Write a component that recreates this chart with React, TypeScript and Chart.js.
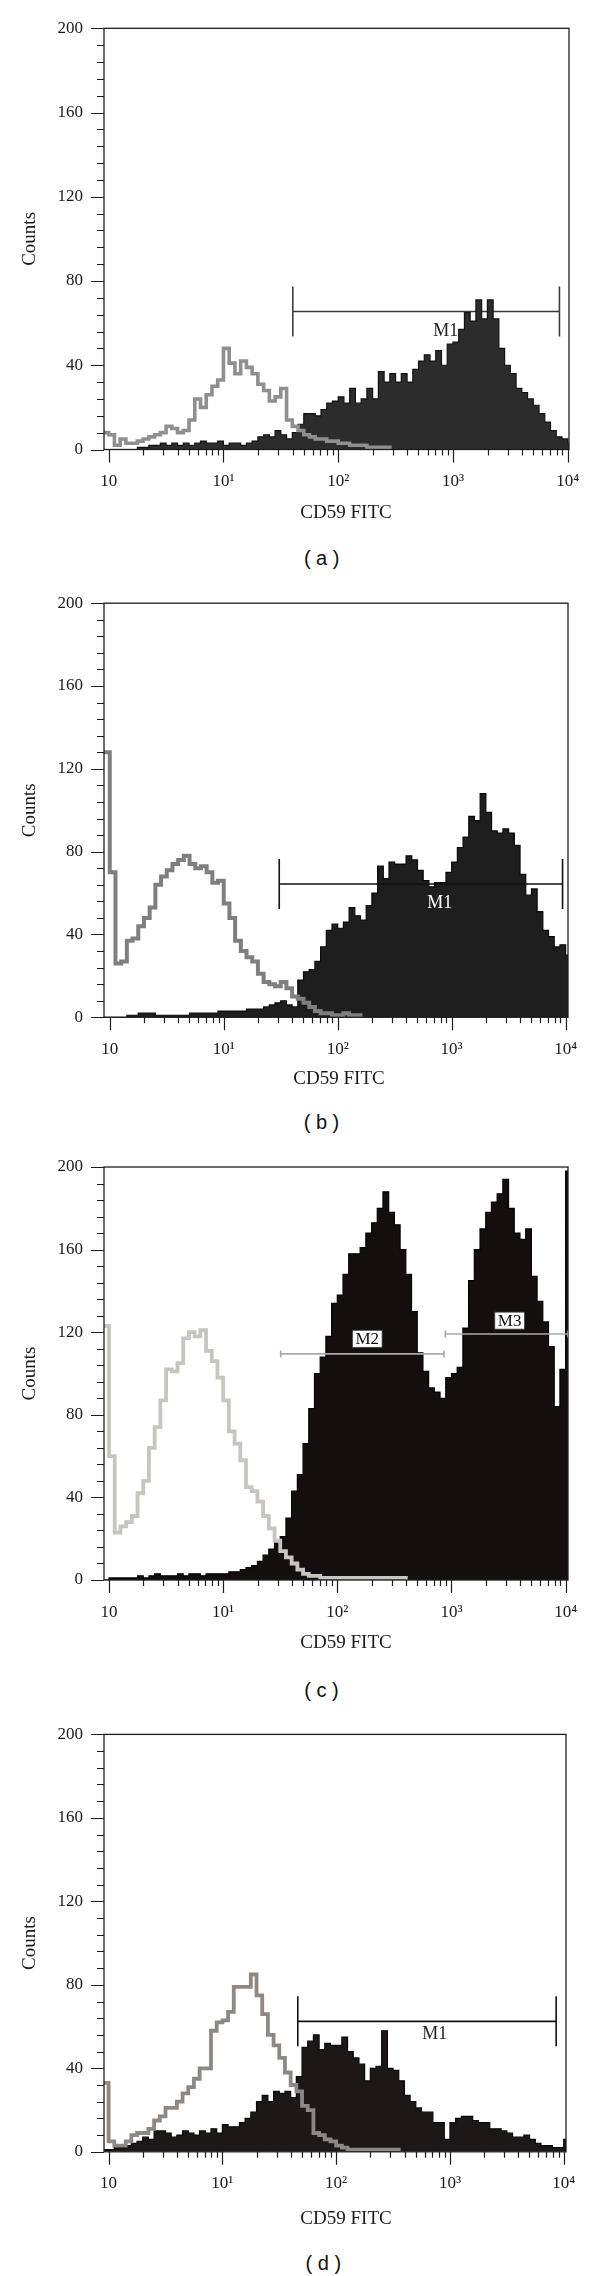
import React, { useEffect, useRef } from 'react';
import { Chart, registerables } from 'chart.js';

Chart.register(...registerables);

// Histogram channels: 1/20-decade bins, the first bin starting at 10^-0.05
const BIN_FIRST_LOG = -0.05;
const BIN_WIDTH_LOG = 0.05;

const X_DECADES = [1, 10, 100, 1000, 10000];
const X_DECADE_LABELS = ['10', '10¹', '10²', '10³', '10⁴'];
const Y_MAX = 200;
const Y_LABEL_STEP = 40;
const Y_MINOR_STEP = 8;
const X_TITLE = 'CD59 FITC';
const Y_TITLE = 'Counts';
const PANEL_LETTERS = ['( a )', '( b )', '( c )', '( d )'];

// ---------- (a) ----------
const aControl = [8, 7, 2, 5, 3, 3, 4, 5, 6, 7, 8, 11, 10, 8, 9, 14, 24, 20, 26, 30, 33, 48, 41, 36, 42, 39, 36, 31, 28, 23, 25, 29, 14, 11, 9, 7, 6, 5, 5, 4, 4, 3, 3, 2, 2, 2, 1, 1, 1, 1];
const aCD59 = [0, 0, 0, 0, 0, 0, 1, 1, 2, 2, 3, 2, 3, 2, 3, 2, 3, 4, 3, 3, 4, 2, 3, 3, 2, 3, 4, 6, 7, 6, 9, 7, 5, 8, 12, 17, 17, 16, 19, 22, 23, 25, 22, 29, 22, 24, 29, 24, 37, 32, 36, 32, 36, 32, 38, 42, 45, 42, 47, 40, 50, 51, 57, 65, 61, 71, 62, 71, 62, 48, 40, 36, 29, 27, 24, 21, 17, 13, 9, 6, 5, 3];
const aMarkerNames = ['M1'];
const aMarkerStart = [40.2];
const aMarkerEnd = [8470];
const aMarkerLevel = [65.5];
const aMarkerTextX = [867];
const aMarkerTextY = [56.4];

// ---------- (b) ----------
const bControl = [128, 70, 26, 27, 37, 38, 44, 48, 53, 64, 68, 71, 74, 76, 78, 74, 72, 73, 70, 65, 66, 55, 48, 37, 32, 29, 27, 21, 17, 16, 15, 17, 14, 10, 9, 7, 5, 3, 2, 2, 1, 1, 2, 1, 1];
const bCD59 = [0, 0, 0, 0, 1, 1, 2, 2, 2, 1, 1, 1, 1, 1, 1, 2, 2, 2, 2, 2, 3, 3, 3, 3, 3, 4, 4, 4, 5, 6, 7, 8, 6, 5, 18, 22, 23, 27, 34, 42, 45, 43, 46, 53, 49, 47, 54, 60, 73, 67, 75, 74, 74, 78, 76, 71, 66, 63, 65, 65, 70, 75, 82, 87, 97, 95, 108, 99, 90, 89, 91, 89, 83, 69, 59, 62, 51, 42, 39, 34, 35, 30];
const bMarkerNames = ['M1'];
const bMarkerStart = [30.7];
const bMarkerEnd = [9400];
const bMarkerLevel = [64.4];
const bMarkerTextX = [785];
const bMarkerTextY = [55.5];

// ---------- (c) ----------
const cControl = [123, 60, 23, 26, 28, 31, 42, 48, 64, 74, 87, 102, 101, 105, 117, 120, 118, 121, 111, 106, 98, 87, 72, 66, 58, 45, 43, 38, 31, 25, 19, 14, 11, 8, 5, 3, 2, 2, 1, 1, 1, 1, 1, 1, 1, 1, 1, 1, 1, 1, 1, 1, 1];
const cCD59 = [0, 1, 1, 1, 1, 1, 2, 1, 2, 3, 2, 2, 2, 3, 2, 3, 3, 2, 3, 3, 3, 3, 4, 4, 5, 6, 7, 9, 12, 15, 19, 21, 30, 43, 51, 66, 83, 100, 108, 118, 134, 138, 148, 158, 158, 161, 168, 173, 180, 188, 178, 172, 160, 148, 130, 110, 101, 93, 91, 88, 98, 100, 103, 122, 145, 160, 170, 178, 183, 187, 194, 180, 168, 165, 170, 147, 135, 125, 113, 84, 102, 198];
const cMarkerNames = ['M2', 'M3'];
const cMarkerStart = [31.9, 883];
const cMarkerEnd = [861, 10500];
const cMarkerLevel = [109.5, 119.1];
const cMarkerTextX = [183, 3230];
const cMarkerTextY = [116.8, 125.6];

// ---------- (d) ----------
const dControl = [33, 5, 3, 3, 5, 8, 9, 9, 11, 15, 17, 21, 21, 24, 28, 31, 35, 40, 40, 58, 62, 63, 67, 79, 79, 79, 85, 75, 66, 56, 51, 45, 38, 32, 29, 22, 20, 9, 8, 6, 5, 3, 2, 1, 1, 1, 1, 1, 1, 1, 1, 1];
const dCD59 = [1, 1, 2, 2, 3, 4, 5, 7, 6, 10, 10, 9, 7, 8, 10, 9, 8, 10, 9, 11, 9, 13, 12, 12, 14, 16, 19, 24, 27, 24, 29, 28, 29, 26, 36, 50, 53, 56, 49, 52, 51, 51, 55, 48, 45, 42, 34, 40, 41, 58, 40, 39, 34, 27, 24, 21, 19, 19, 14, 14, 6, 14, 16, 17, 17, 15, 14, 14, 11, 11, 10, 9, 7, 7, 8, 6, 4, 3, 3, 2, 2, 6];
const dMarkerNames = ['M1'];
const dMarkerStart = [46];
const dMarkerEnd = [8580];
const dMarkerLevel = [62.5];
const dMarkerTextX = [737];
const dMarkerTextY = [57];

// ---------- layout / style (page pixels) ----------
const SERIF = "'Liberation Serif', 'Times New Roman', serif";
const SANS = "'Liberation Sans', Arial, sans-serif";
const TICK_FONT = 17;
const TITLE_FONT = 19;

type Markers = {
  names: string[]; start: number[]; end: number[]; level: number[]; textX: number[]; textY: number[];
};

type Panel = {
  letter: string;
  control: number[];
  cd59: number[];
  markers: Markers;
  canvasTop: number;
  plotTop: number;
  plotBottom: number;
  plotRight: number;
  titleOffset: number;
  titleX: number;
  xMin: number;
  xMax: number;
  controlColor: string;
  controlWidth: number;
  fillColor: string;
  edgeColor: string;
  markerColor: string;
  markerText: string;
  markerStyle: 'plain' | 'boxed';
  markerCap: number;
  markersBehind: boolean;
  letterX: number;
  letterY: number;
};

const PANELS: Panel[] = [
  {
    letter: PANEL_LETTERS[0], control: aControl, cd59: aCD59,
    markers: { names: aMarkerNames, start: aMarkerStart, end: aMarkerEnd, level: aMarkerLevel, textX: aMarkerTextX, textY: aMarkerTextY },
    canvasTop: 0, plotTop: 28.3, plotBottom: 449.5, plotRight: 569, titleOffset: 64, titleX: 346,
    xMin: 0.91, xMax: 10260,
    controlColor: '#8f8f8f', controlWidth: 3.6, fillColor: '#2c2c2c', edgeColor: '#121212',
    markerColor: '#3a3a3a', markerText: '#222222', markerStyle: 'plain', markerCap: 25, markersBehind: true,
    letterX: 321.7, letterY: 558.3,
  },
  {
    letter: PANEL_LETTERS[1], control: bControl, cd59: bCD59,
    markers: { names: bMarkerNames, start: bMarkerStart, end: bMarkerEnd, level: bMarkerLevel, textX: bMarkerTextX, textY: bMarkerTextY },
    canvasTop: 570, plotTop: 603.2, plotBottom: 1017.3, plotRight: 568, titleOffset: 62, titleX: 339,
    xMin: 0.89, xMax: 10490,
    controlColor: '#7f7f7f', controlWidth: 4, fillColor: '#1e1e1e', edgeColor: '#0a0a0a',
    markerColor: '#111111', markerText: '#ffffff', markerStyle: 'plain', markerCap: 25, markersBehind: false,
    letterX: 321.5, letterY: 1121.5,
  },
  {
    letter: PANEL_LETTERS[2], control: cControl, cd59: cCD59,
    markers: { names: cMarkerNames, start: cMarkerStart, end: cMarkerEnd, level: cMarkerLevel, textX: cMarkerTextX, textY: cMarkerTextY },
    canvasTop: 1135, plotTop: 1167, plotBottom: 1580, plotRight: 568, titleOffset: 63, titleX: 346,
    xMin: 0.904, xMax: 10490,
    controlColor: '#c8c4c0', controlWidth: 3.8, fillColor: '#130f0f', edgeColor: '#050303',
    markerColor: '#a9a9a9', markerText: '#111111', markerStyle: 'boxed', markerCap: 3.5, markersBehind: false,
    letterX: 321.5, letterY: 1689.7,
  },
  {
    letter: PANEL_LETTERS[3], control: dControl, cd59: dCD59,
    markers: { names: dMarkerNames, start: dMarkerStart, end: dMarkerEnd, level: dMarkerLevel, textX: dMarkerTextX, textY: dMarkerTextY },
    canvasTop: 1700, plotTop: 1734.4, plotBottom: 2151.8, plotRight: 566, titleOffset: 67, titleX: 346,
    xMin: 0.911, xMax: 10470,
    controlColor: '#8d8884', controlWidth: 3.8, fillColor: '#1c1818', edgeColor: '#0a0808',
    markerColor: '#111111', markerText: '#222222', markerStyle: 'plain', markerCap: 25, markersBehind: false,
    letterX: 323.4, letterY: 2263.4,
  },
];

function toSteps(values: number[]) {
  const pts = values.map((v, i) => ({ x: Math.pow(10, BIN_FIRST_LOG + i * BIN_WIDTH_LOG), y: v }));
  pts.push({ x: Math.pow(10, BIN_FIRST_LOG + values.length * BIN_WIDTH_LOG), y: 0 });
  return pts;
}

function drawFrame(chart: any) {
  const { ctx, chartArea, scales } = chart;
  const { left, right, top, bottom } = chartArea;
  const x = scales.x;
  const y = scales.y;
  ctx.save();
  ctx.strokeStyle = '#1c1c1c';
  ctx.lineWidth = 1.3;
  ctx.strokeRect(left, top, right - left, bottom - top);
  ctx.lineWidth = 1.2;
  ctx.beginPath();
  for (let v = 0; v <= Y_MAX; v += Y_MINOR_STEP) {
    const py = Math.round(y.getPixelForValue(v)) + 0.5;
    const len = v % Y_LABEL_STEP === 0 ? 13 : 7;
    ctx.moveTo(left - len, py);
    ctx.lineTo(left, py);
  }
  for (let d = 0; d < X_DECADES.length; d++) {
    const base = X_DECADES[d];
    const maxM = d === X_DECADES.length - 1 ? 1 : 9;
    for (let m = 1; m <= maxM; m++) {
      const px = Math.round(x.getPixelForValue(base * m)) + 0.5;
      const len = m === 1 ? 13 : 6;
      ctx.moveTo(px, bottom);
      ctx.lineTo(px, bottom + len);
    }
  }
  ctx.stroke();
  ctx.restore();
}

function drawXTitle(chart: any, p: Panel) {
  const { ctx, chartArea } = chart;
  ctx.save();
  ctx.font = `${TITLE_FONT}px ${SERIF}`;
  ctx.fillStyle = '#1a1a1a';
  ctx.textAlign = 'center';
  ctx.textBaseline = 'middle';
  ctx.fillText(X_TITLE, p.titleX, chartArea.bottom + p.titleOffset);
  ctx.restore();
}

function drawMarkers(chart: any, p: Panel) {
  const { ctx, chartArea, scales } = chart;
  const x = scales.x;
  const y = scales.y;
  const m = p.markers;
  ctx.save();
  ctx.beginPath();
  ctx.rect(chartArea.left, chartArea.top, chartArea.right - chartArea.left, chartArea.bottom - chartArea.top);
  ctx.clip();
  for (let i = 0; i < m.names.length; i++) {
    const x1 = x.getPixelForValue(m.start[i]);
    const x2 = x.getPixelForValue(m.end[i]);
    const py = y.getPixelForValue(m.level[i]);
    ctx.strokeStyle = p.markerColor;
    ctx.lineWidth = 1.6;
    ctx.beginPath();
    ctx.moveTo(x1, py);
    ctx.lineTo(x2, py);
    ctx.moveTo(x1, py - p.markerCap);
    ctx.lineTo(x1, py + p.markerCap);
    ctx.moveTo(x2, py - p.markerCap);
    ctx.lineTo(x2, py + p.markerCap);
    ctx.stroke();
    const tx = x.getPixelForValue(m.textX[i]);
    const ty = y.getPixelForValue(m.textY[i]);
    ctx.font = `${p.markerStyle === 'boxed' ? 17 : 18}px ${SERIF}`;
    ctx.textAlign = 'center';
    ctx.textBaseline = 'middle';
    if (p.markerStyle === 'boxed') {
      const w = ctx.measureText(m.names[i]).width + 6;
      const h = 17;
      ctx.fillStyle = '#ffffff';
      ctx.fillRect(tx - w / 2, ty - h / 2, w, h);
      ctx.strokeStyle = '#444444';
      ctx.lineWidth = 0.8;
      ctx.strokeRect(tx - w / 2, ty - h / 2, w, h);
    }
    ctx.fillStyle = p.markerText;
    ctx.fillText(m.names[i], tx, ty + 1);
  }
  ctx.restore();
}

function HistogramPanel({ p }: { p: Panel }) {
  const ref = useRef<HTMLCanvasElement>(null);
  const plotBottomInCanvas = p.plotBottom - p.canvasTop;
  const height = Math.round(plotBottomInCanvas + p.titleOffset + 14);

  useEffect(() => {
    const canvas = ref.current;
    if (!canvas) return;
    const xAxisHeight = height - plotBottomInCanvas;
    const decor = {
      id: 'histDecor',
      beforeDatasetsDraw(chart: any) {
        if (p.markersBehind) drawMarkers(chart, p);
      },
      afterDatasetsDraw(chart: any) {
        drawFrame(chart);
        if (!p.markersBehind) drawMarkers(chart, p);
      },
      afterDraw(chart: any) {
        drawXTitle(chart, p);
      },
    };
    const chart = new Chart(canvas, {
      type: 'line',
      data: {
        datasets: [
          {
            label: 'Isotype control',
            data: toSteps(p.control),
            stepped: 'before',
            borderColor: p.controlColor,
            borderWidth: p.controlWidth,
            pointRadius: 0,
            fill: false,
            order: 0,
            clip: 0,
          },
          {
            label: 'CD59',
            data: toSteps(p.cd59),
            stepped: 'before',
            borderColor: p.edgeColor,
            borderWidth: 1.2,
            backgroundColor: p.fillColor,
            pointRadius: 0,
            fill: 'origin',
            order: 1,
            clip: 0,
          },
        ],
      },
      options: {
        responsive: false,
        animation: false,
        devicePixelRatio: 1,
        events: [],
        layout: { padding: { top: p.plotTop - p.canvasTop, right: 600 - p.plotRight, bottom: 0, left: 0 } },
        plugins: { legend: { display: false }, tooltip: { enabled: false } },
        scales: {
          x: {
            type: 'logarithmic',
            position: 'bottom',
            min: p.xMin,
            max: p.xMax,
            afterBuildTicks: (s: any) => {
              s.ticks = X_DECADES.map((v) => ({ value: v }));
            },
            ticks: {
              autoSkip: false,
              maxRotation: 0,
              minRotation: 0,
              padding: 9,
              color: '#1a1a1a',
              font: { family: SERIF, size: TICK_FONT },
              callback: (_v: any, i: number) => X_DECADE_LABELS[i],
            },
            grid: { display: true, drawOnChartArea: false, drawTicks: true, tickLength: 13, color: 'rgba(0,0,0,0)' },
            border: { display: false },
            title: { display: false },
            afterFit: (s: any) => {
              s.height = xAxisHeight;
            },
          },
          y: {
            type: 'linear',
            min: 0,
            max: Y_MAX,
            ticks: {
              stepSize: Y_LABEL_STEP,
              padding: 8,
              color: '#1a1a1a',
              font: { family: SERIF, size: TICK_FONT },
            },
            grid: { display: true, drawOnChartArea: false, drawTicks: true, tickLength: 13, color: 'rgba(0,0,0,0)' },
            border: { display: false },
            title: {
              display: true,
              text: Y_TITLE,
              color: '#1a1a1a',
              font: { family: SERIF, size: TITLE_FONT },
              padding: { top: 19, bottom: 0 },
            },
            afterFit: (s: any) => {
              s.width = 104;
            },
          },
        },
      } as any,
      plugins: [decor],
    } as any);
    return () => chart.destroy();
  }, []);

  return (
    <>
      <canvas
        ref={ref}
        width={600}
        height={height}
        style={{ position: 'absolute', left: 0, top: p.canvasTop, width: 600, height, display: 'block' }}
      />
      <div
        style={{
          position: 'absolute',
          left: p.letterX - 100,
          top: p.letterY - 12,
          width: 200,
          height: 24,
          lineHeight: '24px',
          textAlign: 'center',
          fontFamily: SANS,
          fontSize: 20,
          color: '#111',
          whiteSpace: 'pre',
        }}
      >
        {p.letter}
      </div>
    </>
  );
}

export default function App() {
  return (
    <div style={{ position: 'absolute', left: 0, top: 0, width: 600, height: 2276, background: '#ffffff', overflow: 'hidden' }}>
      {PANELS.map((p) => (
        <HistogramPanel key={p.letter} p={p} />
      ))}
    </div>
  );
}
